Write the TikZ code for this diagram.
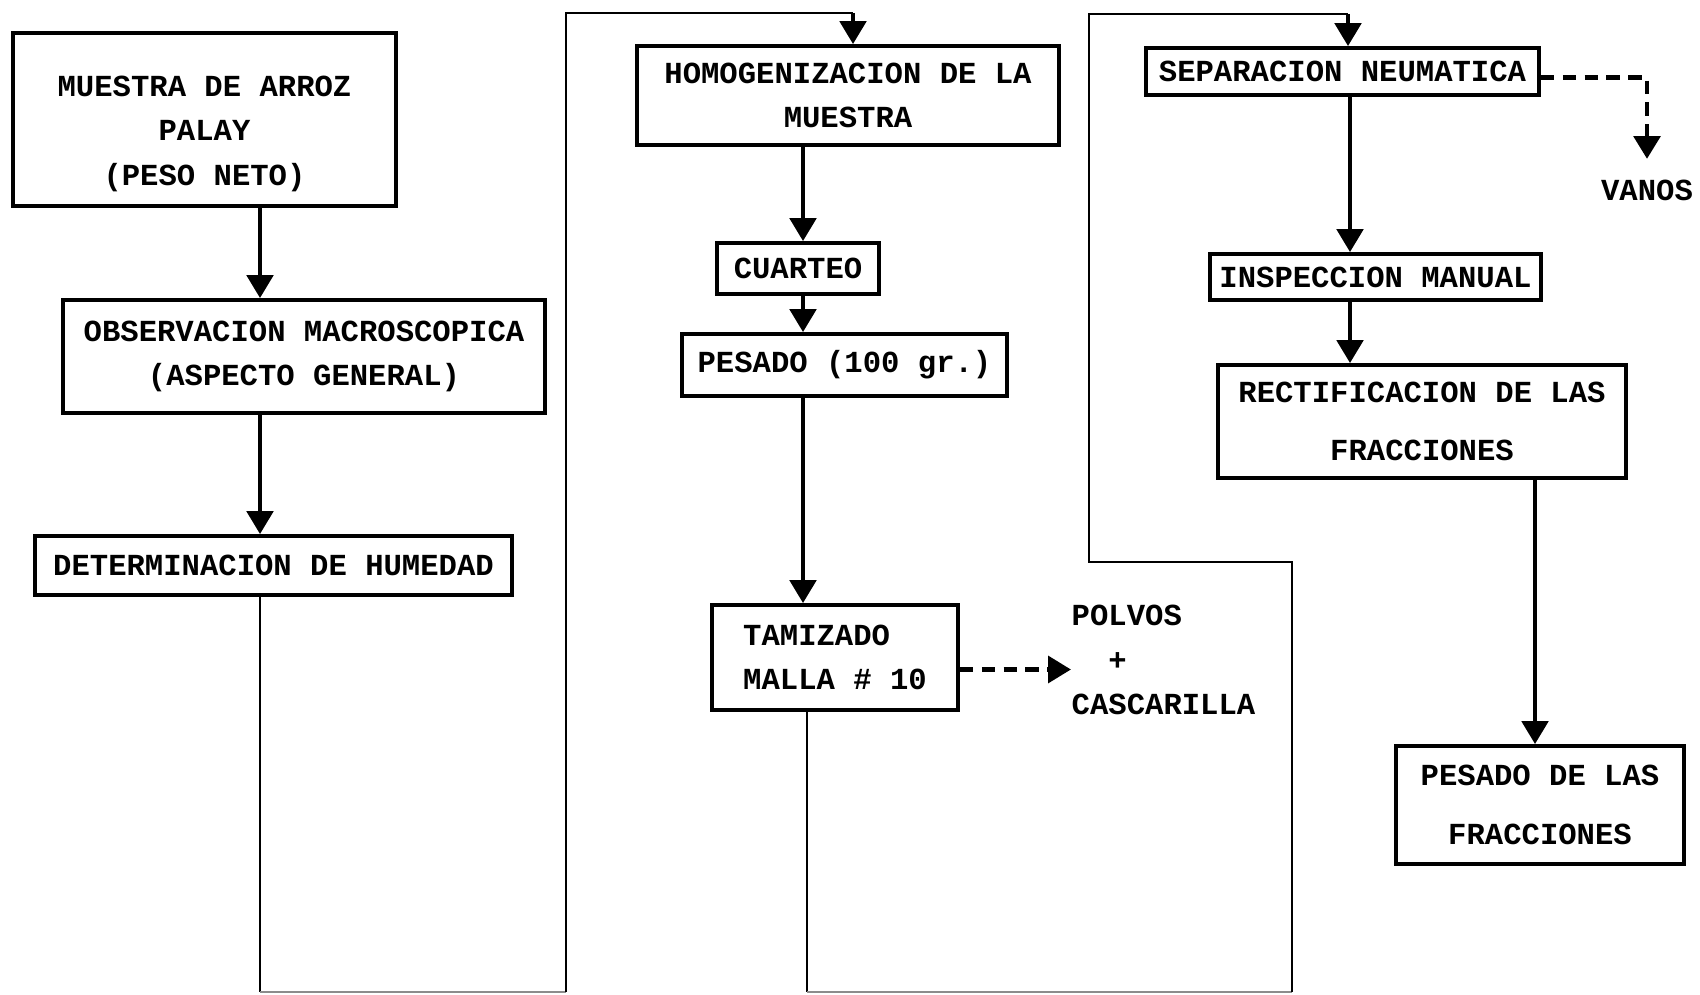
\documentclass[tikz,border=0pt]{standalone}
\usepackage{fontspec}
\setmonofont{Liberation Mono}
\usepackage{tikz}
\usetikzlibrary{arrows.meta}
\usetikzlibrary{positioning}

\tikzset{
  caja/.style={draw, line width=1.1pt, align=center, inner sep=0pt},
  flecha/.style={line width=1.1pt, -{Triangle[width=7.5pt,length=6.5pt]}},
  rama/.style={line width=1.4pt, dash pattern=on 3.8pt off 2.4pt, -{Triangle[width=7.5pt,length=6.5pt]}},
  linea/.style={line width=0.8pt},
  tenue/.style={line width=0.6pt, black!45}
}

\begin{document}
\begin{tikzpicture}[x=0.01cm, y=-0.01cm,
    font=\fontsize{8.7}{12.7}\selectfont\ttfamily\bfseries]
    \useasboundingbox (0,0) rectangle (1700,995);

    % columnas de las flechas
    \coordinate (colA) at (260,0);
    \coordinate (colB) at (803,0);
    \coordinate (colC) at (1350,0);
    \coordinate (colD) at (1535,0);

    % primera columna
    \node[caja, minimum width=3.83cm, minimum height=1.73cm] (muestra) at (204.5,119.5)
        {\rule{0pt}{14pt}MUESTRA DE ARROZ\\PALAY\\(PESO NETO)};
    \node[caja, minimum width=4.82cm, minimum height=1.13cm] (obs) at (304,356.5)
        {OBSERVACION MACROSCOPICA\\(ASPECTO GENERAL)};
    \node[caja, minimum width=4.77cm, minimum height=0.59cm] (det) at (273.5,565.5)
        {DETERMINACION DE HUMEDAD};

    % segunda columna
    \node[caja, minimum width=4.22cm, minimum height=0.99cm] (homog) at (848,95.5)
        {HOMOGENIZACION DE LA\\MUESTRA};
    \node[caja, minimum width=1.62cm, minimum height=0.51cm] (cuarteo) at (798,268.5)
        {CUARTEO};
    \node[caja, minimum width=3.25cm, minimum height=0.62cm] (pesado) at (844.5,365)
        {PESADO (100 gr.)};
    \node[caja, align=left, minimum width=2.46cm, minimum height=1.05cm] (tam) at (835,657.5)
        {TAMIZADO\\MALLA \# 10};
    \node[align=left, anchor=west, inner sep=0pt] (polvos) at (1071,660)
        {POLVOS\\~~+\\CASCARILLA};

    % tercera columna
    \node[caja, minimum width=3.93cm, minimum height=0.47cm] (sep) at (1342.5,71.5)
        {SEPARACION NEUMATICA};
    \node[caja, minimum width=3.31cm, minimum height=0.46cm] (insp) at (1375.5,277)
        {INSPECCION MANUAL};
    \node[caja, minimum width=4.08cm, minimum height=1.13cm] (rect) at (1422,421.5)
        {RECTIFICACION DE LAS\\[4pt]FRACCIONES};
    \node[caja, minimum width=2.88cm, minimum height=1.18cm] (pesfrac) at (1540,805)
        {PESADO DE LAS\\[4pt]FRACCIONES};
    \node[inner sep=0pt] (vanos) at (1647,190) {VANOS};

    % flechas
    \draw[flecha] (muestra.south -| colA) -- (obs.north -| colA);
    \draw[flecha] (obs.south -| colA) -- (det.north -| colA);
    \draw[linea] (det.south -| colA) -- (260,992);
    \draw[tenue] (260,992) -- (566,992);
    \draw[linea] (566,992) -- (566,13) -- (853,13);
    \draw[flecha] (853,13) -- (homog.north -| 853,0);

    \draw[flecha] (homog.south -| colB) -- (cuarteo.north -| colB);
    \draw[flecha] (cuarteo.south -| colB) -- (pesado.north -| colB);
    \draw[flecha] (pesado.south -| colB) -- (tam.north -| colB);
    \draw[rama] ([yshift=-0.12cm]tam.east) -- ([yshift=-0.12cm]tam.east -| polvos.west);
    \draw[linea] (tam.south -| 807,0) -- (807,992);
    \draw[tenue] (807,992) -- (1292,992);
    \draw[linea] (1292,992) -- (1292,562) -- (1089,562) -- (1089,14) -- (1348,14);
    \draw[flecha] (1348,14) -- (sep.north -| 1348,0);

    \draw[flecha] (sep.south -| colC) -- (insp.north -| colC);
    \draw[flecha] (insp.south -| colC) -- (rect.north -| colC);
    \draw[flecha] (rect.south -| colD) -- (pesfrac.north -| colD);
    \draw[rama] ([yshift=-0.06cm]sep.east) -- ([yshift=-0.06cm]sep.east -| vanos) -- ([yshift=0.2cm]vanos.north);
\end{tikzpicture}
\end{document}
